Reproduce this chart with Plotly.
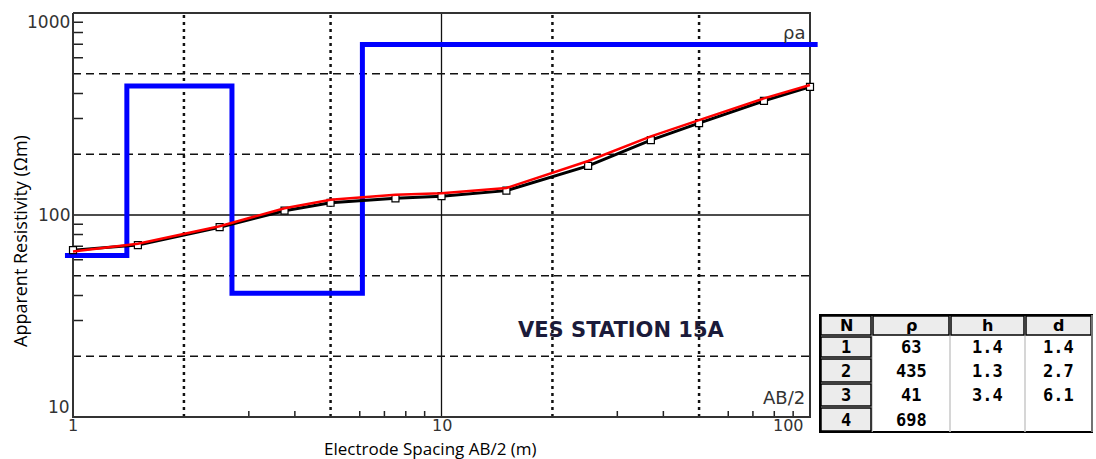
import numpy as np
import plotly.graph_objects as go

# ---------------- data ----------------
ab2 = [1, 1.5, 2.5, 3.75, 5, 7.5, 10, 15, 25, 37, 50, 75, 100]
rho_obs = [67, 71, 87, 105, 115, 121, 124, 132, 175, 235, 285, 367, 431]
rho_calc = [66, 72, 88, 108, 119, 126, 128, 136, 185, 245, 295, 378, 440]

layer_n = ["1", "2", "3", "4"]
layer_rho = [63, 435, 41, 698]
layer_h = [1.4, 1.3, 3.4]
layer_d = [1.4, 2.7, 6.1]

x_tick_labels = ["1", "10", "100"]
y_tick_labels = ["10", "100", "1000"]
table_header = ["N", "ρ", "h", "d"]

x_dotted = [2, 5, 20, 50]
y_dashed = [20, 50, 200, 500]
x_minor = [3, 4, 6, 7, 8, 9, 30, 40, 60, 70, 80, 90]
y_minor = [30, 40, 60, 70, 80, 90, 300, 400, 600, 700, 800, 900]

# ---------------- layout geometry ----------------
W, H = 1096, 459
X1_PX, XDEC = 73.0, 368.5      # pixel of x=1, pixels per decade
Y1000_PX, YDEC = 13.0, 202.0   # pixel of y=1000, pixels per decade
XR = (0.95, 105.0)
YR = (9.6, 1040.0)
XMIN, XMAX = 1, 100
YMIN, YMAX = 10, 1000


def px_x(v):
    return X1_PX + np.log10(v) * XDEC


def px_y(v):
    return Y1000_PX + (3 - np.log10(v)) * YDEC


def pxx(p):
    return p / W


def pyy(p):
    return 1 - p / H


x_domain = [pxx(px_x(XR[0])), pxx(px_x(XR[1]))]
y_domain = [pyy(px_y(YR[0])), pyy(px_y(YR[1]))]

fig = go.Figure()


def seg_trace(xs, ys, color, width, dash="solid"):
    fig.add_trace(go.Scatter(x=xs, y=ys, mode="lines",
                             line=dict(color=color, width=width, dash=dash),
                             hoverinfo="skip", showlegend=False))


# dotted vertical grid
xs, ys = [], []
for v in x_dotted:
    xs += [v, v, None]
    ys += [YMIN, YMAX, None]
seg_trace(xs, ys, "#111", 2.5, "3px,4px")

# dashed horizontal grid
xs, ys = [], []
for v in y_dashed:
    xs += [XMIN, XMAX, None]
    ys += [v, v, None]
seg_trace(xs, ys, "#111", 1.5, "8px,5px")

# solid grid at decade
seg_trace([10, 10, None, XMIN, XMAX], [YMIN, YMAX, None, 100, 100], "#111", 1.3)

# minor ticks
tick_b = 10 ** (6 / YDEC)
tick_l = 10 ** (10 / XDEC)
xs, ys = [], []
for v in x_minor:
    xs += [v, v, None]
    ys += [YMIN, YMIN * tick_b, None]
for v in y_minor:
    xs += [XMIN, XMIN * tick_l, None]
    ys += [v, v, None]
seg_trace(xs, ys, "#222", 1.5)

# frame
seg_trace([XMIN, XMIN, XMAX, XMAX, XMIN], [YMAX, YMIN, YMIN, YMAX, YMAX], "#333", 2)

# model (blue step)
fig.add_trace(go.Scatter(x=[XR[0]] + layer_d + [XR[1]], y=layer_rho + [layer_rho[-1]],
                         mode="lines", line=dict(color="#0000ff", width=5, shape="hv"),
                         hoverinfo="skip", showlegend=False))

# observed data
fig.add_trace(go.Scatter(x=ab2, y=rho_obs, mode="lines+markers",
                         line=dict(color="black", width=3),
                         marker=dict(symbol="square", size=7, color="white",
                                     line=dict(color="black", width=1.2)),
                         hoverinfo="skip", showlegend=False, cliponaxis=False))

# calculated curve
fig.add_trace(go.Scatter(x=ab2, y=rho_calc, mode="lines",
                         line=dict(color="#ff0000", width=2.5),
                         hoverinfo="skip", showlegend=False))

ann = []
tick_font = dict(family="DejaVu Sans", size=17, color="#333")
xtick_font = dict(family="DejaVu Sans", size=16, color="#333")
for lab in x_tick_labels:
    v = float(lab)
    ann.append(dict(x=np.log10(v), y=np.log10(YMIN), xref="x", yref="y", text=lab,
                    showarrow=False, xanchor="center", yanchor="middle",
                    xshift=(-22 if lab == "100" else 0), yshift=-9, font=xtick_font))
yshift_map = {"10": 10, "100": 0, "1000": -9}
for lab in y_tick_labels:
    v = float(lab)
    ann.append(dict(x=np.log10(XMIN), y=np.log10(v), xref="x", yref="y", text=lab,
                    showarrow=False, xanchor="right", yanchor="middle",
                    xshift=-1, yshift=yshift_map[lab], font=tick_font))


def label(px, py, text, font, xanchor="center", angle=0):
    ann.append(dict(x=pxx(px), y=pyy(py), xref="paper", yref="paper", text=text,
                    showarrow=False, xanchor=xanchor, yanchor="middle",
                    textangle=angle, font=font))


label(20, 241, "Apparent Resistivity (Ωm)",
      dict(family="Open Sans", size=18, color="black"), angle=-90)
label(430, 448, "Electrode Spacing AB/2 (m)",
      dict(family="Open Sans", size=17, color="black"))
label(621, 330, "<b>VES STATION 15A</b>",
      dict(family="DejaVu Sans", size=21, color="#1b1b3a"))
label(807, 32, "ρa", dict(family="DejaVu Sans", size=18, color="#333"), xanchor="right")
label(807, 397, "AB/2", dict(family="DejaVu Sans", size=18, color="#333"), xanchor="right")

# ---------------- table ----------------
col_edges = [820, 872, 950, 1025, 1092]
row_edges = [315, 336, 358, 383, 407, 432]
shapes = []


def rect(x0, y0, x1, y1, fill, line_color, lw):
    shapes.append(dict(type="rect", xref="paper", yref="paper",
                       x0=pxx(x0), x1=pxx(x1), y0=pyy(y1), y1=pyy(y0),
                       fillcolor=fill, line=dict(color=line_color, width=lw), layer="above"))


def line(x0, y0, x1, y1, color, lw):
    shapes.append(dict(type="line", xref="paper", yref="paper",
                       x0=pxx(x0), x1=pxx(x1), y0=pyy(y0), y1=pyy(y1),
                       line=dict(color=color, width=lw), layer="above"))


rect(col_edges[0], row_edges[0], col_edges[-1], row_edges[-1], "white", "black", 2)
for c in range(1, len(col_edges) - 1):
    line(col_edges[c], row_edges[1], col_edges[c], row_edges[-1], "#c8c8c8", 1.5)
for c in range(len(col_edges) - 1):
    rect(col_edges[c] + 1, row_edges[0] + 1, col_edges[c + 1] - 1, row_edges[1] - 1,
         "#ececec", "black", 1.5)
for r in range(1, len(row_edges) - 1):
    rect(col_edges[0] + 1, row_edges[r] + 1, col_edges[1] - 1, row_edges[r + 1] - 1,
         "#ececec", "black", 1.5)
line(col_edges[-1], row_edges[0], col_edges[-1], row_edges[-1], "#9a9a9a", 1.5)

cell_font = dict(family="DejaVu Sans Mono", size=17, color="black")
head_font = dict(family="DejaVu Sans", size=16, color="black")


def cell_text(c, r, text, font):
    ann.append(dict(x=pxx((col_edges[c] + col_edges[c + 1]) / 2),
                    y=pyy((row_edges[r] + row_edges[r + 1]) / 2),
                    xref="paper", yref="paper", text="<b>%s</b>" % text,
                    showarrow=False, xanchor="center", yanchor="middle", font=font))


for c, t in enumerate(table_header):
    cell_text(c, 0, t, head_font)
for i in range(len(layer_n)):
    cell_text(0, i + 1, layer_n[i], cell_font)
    cell_text(1, i + 1, str(layer_rho[i]), cell_font)
    if i < len(layer_h):
        cell_text(2, i + 1, str(layer_h[i]), cell_font)
        cell_text(3, i + 1, str(layer_d[i]), cell_font)

fig.update_layout(
    width=W, height=H,
    margin=dict(l=0, r=0, t=0, b=0),
    paper_bgcolor="white", plot_bgcolor="white",
    showlegend=False, hovermode=False,
    xaxis=dict(type="log", range=[np.log10(XR[0]), np.log10(XR[1])], domain=x_domain,
               visible=False, fixedrange=True),
    yaxis=dict(type="log", range=[np.log10(YR[0]), np.log10(YR[1])], domain=y_domain,
               visible=False, fixedrange=True),
    annotations=ann,
    shapes=shapes,
)

fig.write_html("out.html")
